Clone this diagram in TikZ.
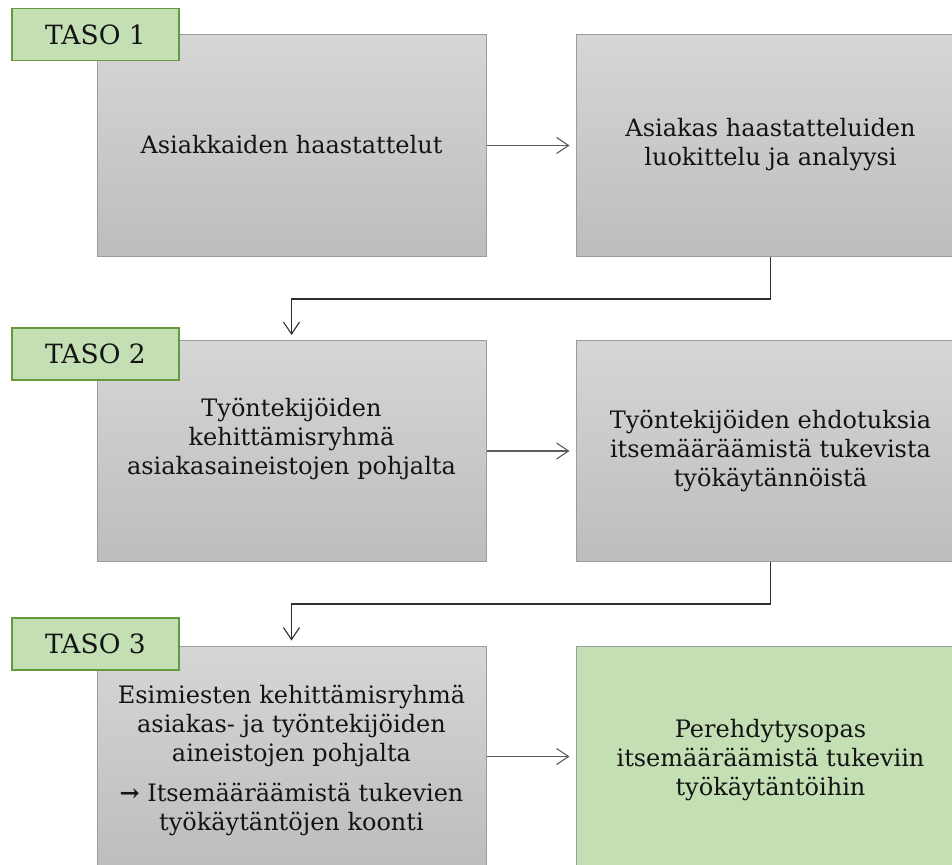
\documentclass[tikz,border=0pt]{standalone}
\usepackage{fontspec}
\setmainfont{DejaVu Serif}
\usetikzlibrary{arrows.meta}

\definecolor{boxtop}{HTML}{D6D6D6}
\definecolor{boxbot}{HTML}{BDBDBD}
\definecolor{boxline}{HTML}{9C9C9C}
\definecolor{leaf}{HTML}{C4DFB4}
\definecolor{leafline}{HTML}{64993F}
\definecolor{ink}{HTML}{141414}
\definecolor{flowgray}{HTML}{5C5C5C}
\definecolor{linkdark}{HTML}{2E2E2E}

\tikzset{
  stagebox/.style={draw=boxline, line width=1pt, top color=boxtop, bottom color=boxbot,
    minimum width=389pt, minimum height=221pt, inner sep=0pt},
  resultbox/.style={draw=boxline, line width=1pt, fill=leaf,
    minimum width=389pt, minimum height=221pt, inner sep=0pt},
  levelbox/.style={draw=leafline, line width=1.3pt, fill=leaf,
    minimum width=167pt, minimum height=52pt, inner sep=0pt,
    text=ink, font=\fontsize{26.5}{30}\selectfont},
  boxtext/.style={align=center, text=ink, inner sep=0pt,
    font=\fontsize{24}{29}\selectfont},
  tip/.style={-{Straight Barb[length=12pt,width=16pt]}},
  flow/.style={tip, draw=flowgray, line width=1.1pt, shorten >=6pt},
  link/.style={tip, draw=linkdark, line width=1.1pt, shorten >=5pt},
}

\begin{document}
\begin{tikzpicture}[x=1pt,y=-1pt]
  \useasboundingbox (0,0) rectangle (952,864);
  \clip (0,0) rectangle (952,864);
  \fill[white] (0,0) rectangle (952,864);

  % row 1
  \node[stagebox] (A1) at (291.5,145.5) {};
  \node[stagebox] (A2) at (770.5,145.5) {};
  \node[boxtext] (A1t) at (291.5,145) {Asiakkaiden haastattelut};
  \node[boxtext] (A2t) at (770.5,145) {Asiakas haastatteluiden\\luokittelu ja analyysi};

  % row 2
  \node[stagebox] (B1) at (291.5,451) {};
  \node[stagebox] (B2) at (770.5,451) {};
  \node[boxtext] (B1t) at (291.5,439) {Työntekijöiden\\kehittämisryhmä\\asiakasaineistojen pohjalta};
  \node[boxtext] (B2t) at (770.5,451) {Työntekijöiden ehdotuksia\\itsemääräämistä tukevista\\työkäytännöistä};

  % row 3
  \node[stagebox] (C1) at (291.5,756.5) {};
  \node[resultbox] (C2) at (770.5,756.5) {};
  \node[boxtext] (C1t) at (291.5,760) {Esimiesten kehittämisryhmä\\asiakas- ja työntekijöiden\\aineistojen pohjalta\\[11pt]\textbf{→} Itsemääräämistä tukevien\\työkäytäntöjen koonti};
  \node[boxtext] (C2t) at (770.5,760) {Perehdytysopas\\itsemääräämistä tukeviin\\työkäytäntöihin};

  % level tags
  \node[levelbox] (L1) at (95.5,34.5) {TASO 1};
  \node[levelbox] (L2) at (95.5,354) {TASO 2};
  \node[levelbox] (L3) at (95.5,644) {TASO 3};

  % arrows within a row
  \draw[flow] (A1.east) -- (A2.west);
  \draw[flow] (B1.east) -- (B2.west);
  \draw[flow] (C1.east) -- (C2.west);

  % connectors between rows
  \coordinate (k1) at (770.5,299);
  \coordinate (k2) at (770.5,604);
  \draw[link] (A2.south) -- (k1) -| (B1.north);
  \draw[link] (B2.south) -- (k2) -| (C1.north);
\end{tikzpicture}
\end{document}
